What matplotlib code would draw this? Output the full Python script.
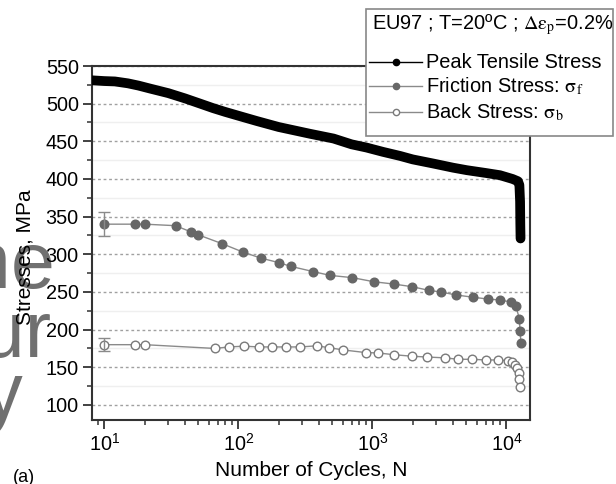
import math
import matplotlib
matplotlib.use('Agg')
import matplotlib.pyplot as plt
from matplotlib.lines import Line2D
from matplotlib.patches import Rectangle
from matplotlib.ticker import LogLocator, MultipleLocator, FuncFormatter, NullFormatter

plt.rcParams['font.family'] = ['Liberation Sans', 'DejaVu Sans']
plt.rcParams['mathtext.fontset'] = 'stix'

# ---- data ----
peak_N = [8.1, 10, 12, 15, 18, 22, 30, 40, 52, 65, 80, 100, 137, 200, 270, 343,
          513, 700, 906, 1200, 1610, 2000, 2850, 4000, 5060, 7000, 8960, 11120,
          12200, 12500, 12650, 12700, 12750]
peak_S = [531, 530, 529.5, 527, 524, 520, 514, 507, 500, 494, 489, 484, 477, 469,
          464, 460, 453.7, 446, 441.7, 436, 430.6, 426, 420.5, 415, 411.7, 408,
          405, 400, 397, 392, 370, 340, 321]

fric_N = [10, 17, 20, 34, 44, 50, 76, 108, 147, 200, 246, 363, 483, 710, 1030,
          1445, 1977, 2663, 3236, 4214, 5640, 7260, 9016, 10780, 11750, 12500,
          12650, 12850]
fric_S = [340, 340, 340, 338, 330, 326, 314, 303, 295, 289, 284, 277, 272, 269,
          263.5, 260.5, 257, 252, 250, 246, 243, 240.6, 239.3, 236.7, 231.4,
          214.5, 197.7, 181.8]
fric_err = 16

back_N = [10, 17, 20, 67, 85, 110, 143, 177, 228, 290, 385, 475, 608, 893, 1104,
          1452, 1990, 2572, 3470, 4385, 5520, 7060, 8720, 10240, 10960, 11600,
          12080, 12380, 12500, 12700]
back_S = [180, 180, 180, 175, 177, 178, 177, 177, 177, 177, 178.5, 176, 173,
          169.5, 169, 166.7, 164.6, 163.6, 162.5, 160.6, 160.6, 159.7, 159.7,
          158.8, 156.6, 153, 148.7, 142, 134, 124.3]
back_err = 9

legend_title = r'EU97 ; T=20ºC ; $\mathrm{\Delta\epsilon_p}$=0.2%'
labels = ['Peak Tensile Stress', r'Friction Stress: $\mathrm{\sigma_f}$',
          r'Back Stress: $\mathrm{\sigma_b}$']

# ---- figure ----
W, H = 616, 484
fig = plt.figure(figsize=(W / 100, H / 100), dpi=100)

def fx(px):
    return px / W

def fy(py):
    return 1 - py / H

# watermark fragments at left edge
for txt, xr, yb in [('Some', 55, 288), ('your', 52, 357), ('way', 23, 418)]:
    fig.text(fx(xr), fy(yb), txt, ha='right', va='baseline', fontsize=57,
             color='#707070', zorder=-1)

ax = fig.add_axes([fx(92), fy(420), (530 - 92) / W, (420 - 66) / H])
ax.patch.set_alpha(0)

ax.plot(peak_N, peak_S, color='black', lw=7, solid_capstyle='round',
        solid_joinstyle='round', zorder=3)
ax.plot(fric_N, fric_S, color='#8a8a8a', lw=1, marker='o', ms=6.2,
        mfc='#676767', mec='#676767', zorder=4)
ax.errorbar(fric_N[:1], fric_S[:1], yerr=fric_err, color='#8a8a8a', capsize=4,
            lw=1, capthick=1, fmt='none', zorder=4)
ax.plot(back_N, back_S, color='#8a8a8a', lw=1, marker='o', ms=6.2,
        mfc='white', mec='#7a7a7a', mew=1, zorder=4)
ax.errorbar(back_N[:1], back_S[:1], yerr=back_err, color='#8a8a8a', capsize=4,
            lw=1, capthick=1, fmt='none', zorder=4)

ax.set_xscale('log')
ax.set_xlim(8.1, 15000)
ax.set_ylim(80, 550)
ax.yaxis.set_major_locator(MultipleLocator(50))
ax.yaxis.set_minor_locator(MultipleLocator(25))
ax.xaxis.set_major_locator(LogLocator(base=10, numticks=10))
ax.xaxis.set_minor_locator(LogLocator(base=10, subs=range(2, 10), numticks=20))
ax.xaxis.set_minor_formatter(NullFormatter())
ax.xaxis.set_major_formatter(FuncFormatter(
    lambda v, p: r'$\mathregular{10^{%d}}$' % round(math.log10(v))))

ax.tick_params(which='major', direction='out', length=6.5, width=1.3,
               labelsize=14.3, top=False, right=False, color='#333333', pad=3)
ax.tick_params(which='minor', direction='out', length=3.5, width=1.1,
               top=False, right=False, color='#333333')

ax.yaxis.grid(True, which='minor', color='#efefef', lw=1, ls='-', zorder=0)
ax.yaxis.grid(True, which='major', color='#a0a0a0', lw=1, ls=(0, (2, 2)), zorder=0)
ax.set_axisbelow(True)

for s in ax.spines.values():
    s.set_linewidth(1.5)
    s.set_color('#333333')

ax.set_xlabel('Number of Cycles, N', fontsize=15, labelpad=4)
ax.set_ylabel('Stresses, MPa', fontsize=15)
ax.yaxis.set_label_coords(-0.132, 0.46)

fig.text(fx(13), fy(477), '(a)', ha='left', va='center', fontsize=13)

# ---- legend drawn by hand in figure pixels ----
fig.patches.append(Rectangle((fx(366), fy(136)), (613 - 366) / W, (136 - 9) / H,
                             transform=fig.transFigure, facecolor='white',
                             edgecolor='#888888', lw=1.2, zorder=10))
fig.text(fx(372), fy(25), legend_title, ha='left', va='center', fontsize=14.4,
         zorder=11)
styles = [dict(color='black', mfc='black', mec='black'),
          dict(color='#8a8a8a', mfc='#676767', mec='#676767'),
          dict(color='#8a8a8a', mfc='white', mec='#7a7a7a')]
rows_y = [62, 86, 112]
for lab, st, ry in zip(labels, styles, rows_y):
    fig.lines.append(Line2D([fx(369), fx(422)], [fy(ry), fy(ry)],
                            transform=fig.transFigure, lw=1, color=st['color'],
                            zorder=11))
    fig.lines.append(Line2D([fx(395.5)], [fy(ry)], transform=fig.transFigure,
                            marker='o', ms=4.5, mfc=st['mfc'], mec=st['mec'],
                            lw=0, zorder=12))
    fig.text(fx(426), fy(ry), lab, ha='left', va='center', fontsize=14.4, zorder=11)

fig.savefig('out.png', dpi=100)
